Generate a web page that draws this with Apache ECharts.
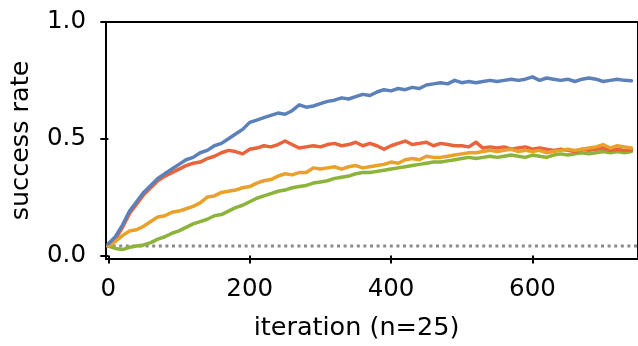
<!DOCTYPE html>
<html>
<head>
<meta charset="utf-8">
<style>
  html, body { margin: 0; padding: 0; background: #fff; }
  #chart { width: 638px; height: 346px; }
</style>
<script src="https://cdn.jsdelivr.net/npm/echarts@6/dist/echarts.min.js"></script>
</head>
<body>
<div id="chart"></div>
<script>
// Iterations sampled every 10 steps
const iterations = [0,10,20,30,40,50,60,70,80,90,100,110,120,130,140,150,160,170,180,190,200,210,220,230,240,250,260,270,280,290,300,310,320,330,340,350,360,370,380,390,400,410,420,430,440,450,460,470,480,490,500,510,520,530,540,550,560,570,580,590,600,610,620,630,640,650,660,670,680,690,700,710,720,730,740];

const blueRate = [0.05,0.08,0.13,0.19,0.23,0.27,0.30,0.33,0.35,0.37,0.39,0.41,0.42,0.44,0.45,0.47,0.48,0.50,0.52,0.54,0.57,0.58,0.59,0.60,0.61,0.605,0.62,0.645,0.635,0.64,0.65,0.66,0.665,0.675,0.67,0.68,0.69,0.685,0.70,0.71,0.705,0.715,0.71,0.72,0.715,0.73,0.735,0.74,0.735,0.75,0.74,0.745,0.74,0.745,0.75,0.745,0.75,0.755,0.75,0.755,0.765,0.75,0.76,0.755,0.75,0.755,0.745,0.755,0.76,0.755,0.745,0.75,0.755,0.75,0.748];

const redRate = [0.05,0.07,0.12,0.18,0.22,0.26,0.29,0.32,0.34,0.355,0.37,0.385,0.395,0.40,0.415,0.425,0.44,0.45,0.445,0.435,0.455,0.46,0.47,0.465,0.475,0.49,0.475,0.46,0.465,0.47,0.465,0.475,0.48,0.47,0.475,0.485,0.47,0.48,0.47,0.455,0.47,0.48,0.49,0.475,0.48,0.485,0.47,0.48,0.475,0.47,0.47,0.465,0.485,0.46,0.465,0.46,0.465,0.455,0.46,0.465,0.455,0.46,0.455,0.45,0.455,0.45,0.445,0.455,0.45,0.455,0.46,0.45,0.455,0.45,0.452];

const orangeRate = [0.04,0.06,0.085,0.105,0.11,0.125,0.145,0.165,0.17,0.185,0.19,0.20,0.21,0.225,0.25,0.255,0.27,0.275,0.28,0.29,0.295,0.31,0.32,0.325,0.34,0.35,0.345,0.355,0.355,0.375,0.37,0.375,0.38,0.37,0.38,0.385,0.375,0.38,0.385,0.39,0.40,0.395,0.41,0.415,0.41,0.425,0.42,0.42,0.425,0.43,0.435,0.44,0.44,0.445,0.45,0.445,0.45,0.455,0.445,0.45,0.445,0.45,0.44,0.445,0.45,0.455,0.45,0.455,0.46,0.465,0.475,0.46,0.47,0.465,0.46];

const greenRate = [0.04,0.03,0.025,0.035,0.04,0.045,0.055,0.07,0.08,0.095,0.105,0.12,0.135,0.145,0.155,0.17,0.175,0.19,0.205,0.215,0.23,0.245,0.255,0.265,0.275,0.28,0.29,0.295,0.30,0.31,0.315,0.32,0.33,0.335,0.34,0.35,0.355,0.355,0.36,0.365,0.37,0.375,0.38,0.385,0.39,0.395,0.40,0.40,0.405,0.41,0.415,0.42,0.415,0.42,0.425,0.42,0.425,0.43,0.425,0.42,0.43,0.425,0.42,0.43,0.435,0.43,0.435,0.44,0.435,0.44,0.445,0.44,0.445,0.44,0.445];

// Chance level (1 / n with n = 25)
const chanceRate = 0.04;
const chanceSpan = [-3.3, 760];

const xTicks = [0, 200, 400, 600];
const yTicks = [0, 0.5, 1.0];

const FONT = 'DejaVu Sans';

function pairs(xs, ys) { return xs.map((x, i) => [x, ys[i]]); }

function curve(name, values, color, z) {
  return {
    name: name,
    type: 'line',
    data: pairs(iterations, values),
    showSymbol: false,
    silent: true,
    z: z,
    lineStyle: { color: color, width: 3.5, join: 'round', cap: 'round' }
  };
}

const chart = echarts.init(document.getElementById('chart'), null, { renderer: 'canvas' });

chart.setOption({
  animation: false,
  backgroundColor: '#ffffff',
  grid: {
    left: 105.3,
    top: 22,
    width: 540,
    height: 245,
    show: true,
    borderColor: '#000',
    borderWidth: 2,
    backgroundColor: 'transparent'
  },
  xAxis: {
    type: 'value',
    min: -3.3,
    max: -3.3 + 540 / 0.7175,
    splitLine: { show: false },
    axisLine: { show: false },
    axisTick: { show: true, length: 8, lineStyle: { color: '#000', width: 2 }, customValues: xTicks },
    axisLabel: { customValues: xTicks, margin: 18, color: '#000', fontFamily: FONT, fontSize: 24.5 },
    name: 'iteration (n=25)',
    nameLocation: 'middle',
    nameGap: 56,
    nameTextStyle: { color: '#000', fontFamily: FONT, fontSize: 25.5, padding: [0, 31, 0, 0] }
  },
  yAxis: {
    type: 'value',
    min: -0.0153,
    max: 1.0,
    splitLine: { show: false },
    axisLine: { show: false },
    axisTick: { show: true, length: 8, lineStyle: { color: '#000', width: 2 }, customValues: yTicks },
    axisLabel: { customValues: yTicks, margin: 20, color: '#000', fontFamily: FONT, fontSize: 24.5,
                 formatter: v => v.toFixed(1) },
    name: 'success rate',
    nameLocation: 'middle',
    nameGap: 72,
    nameTextStyle: { color: '#000', fontFamily: FONT, fontSize: 25.5 }
  },
  series: [
    {
      name: 'chance',
      type: 'line',
      data: chanceSpan.map(x => [x, chanceRate]),
      showSymbol: false,
      silent: true,
      z: 1,
      lineStyle: { color: '#8a8a8a', width: 3, type: [3, 3.6], cap: 'butt' }
    },
    curve('green', greenRate, '#8cb33a', 2),
    curve('red', redRate, '#e8643a', 3),
    curve('orange', orangeRate, '#e9a12c', 4),
    curve('blue', blueRate, '#5b80ba', 5)
  ]
});
</script>
</body>
</html>
